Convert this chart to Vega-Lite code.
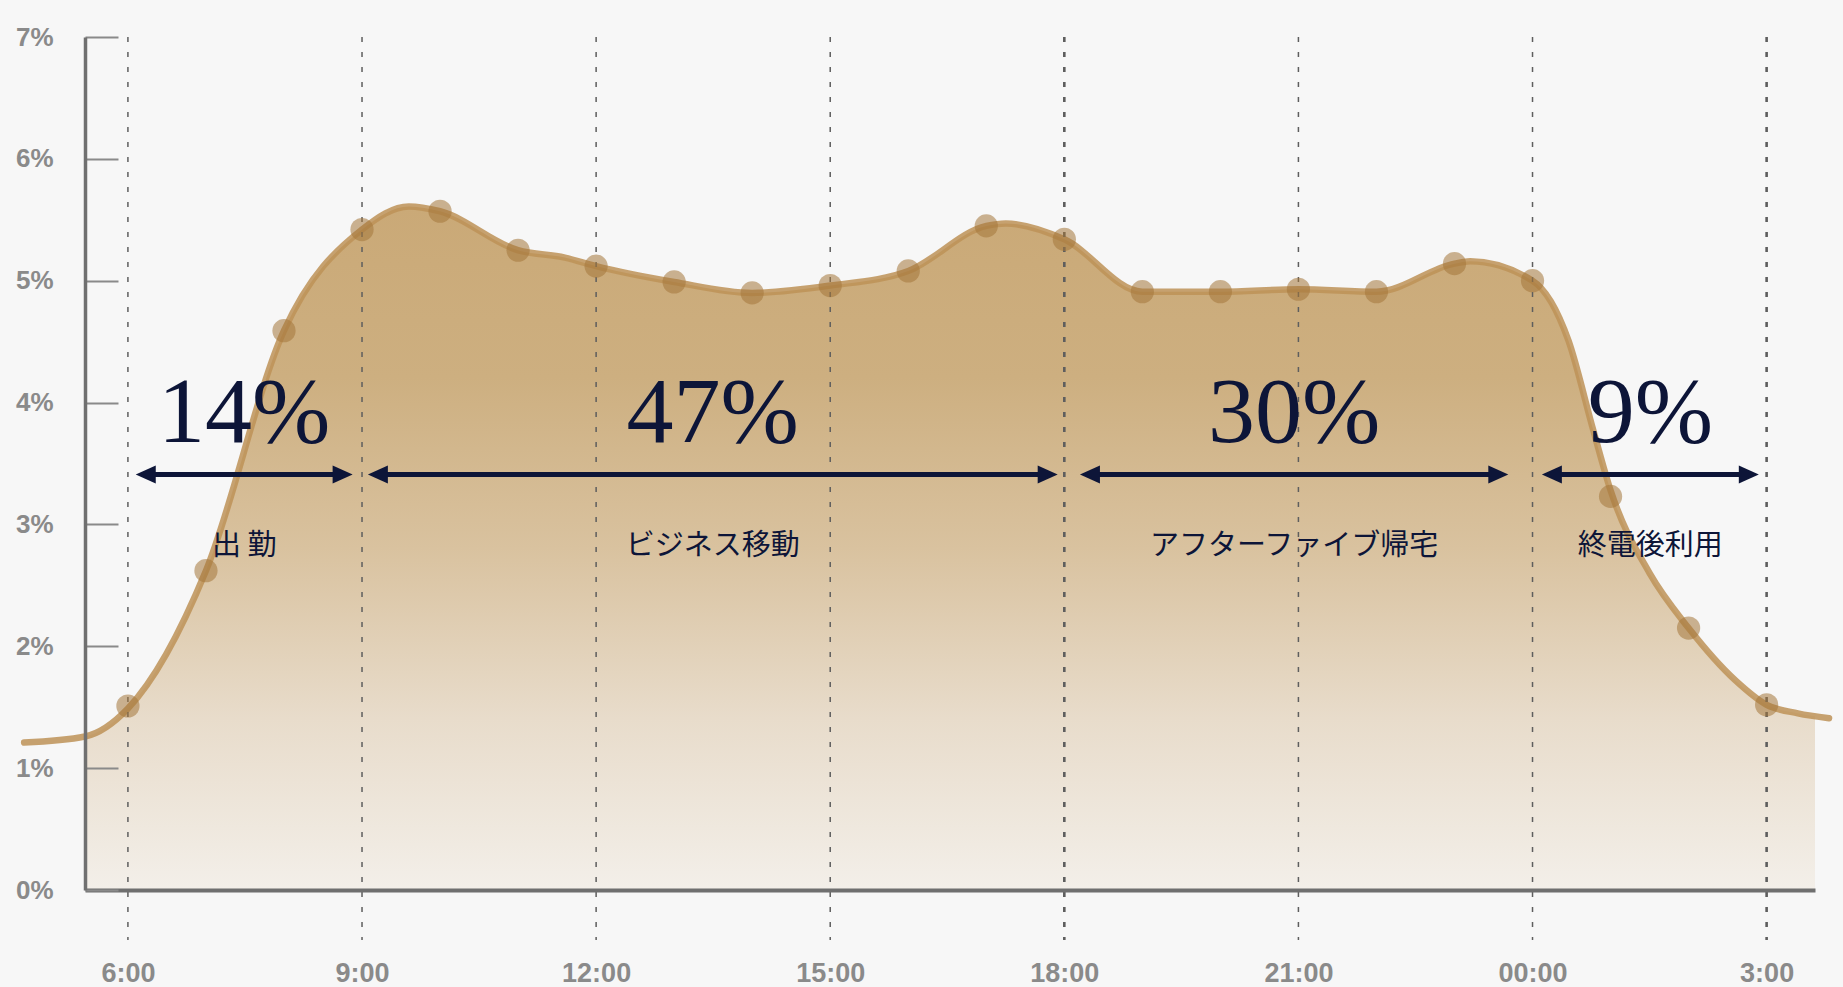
{
  "$schema": "https://vega.github.io/schema/vega-lite/v6.json",
  "width": 1730,
  "height": 853,
  "autosize": {"type": "none"},
  "padding": {"left": 85, "top": 37, "right": 28, "bottom": 97},
  "background": "#f7f7f7",
  "config": {"view": {"stroke": null}, "axis": {"grid": false}},
  "datasets": {
    "points": [
      {"h": 6, "v": 1.51}, {"h": 7, "v": 2.62}, {"h": 8, "v": 4.59}, {"h": 9, "v": 5.42},
      {"h": 10, "v": 5.57}, {"h": 11, "v": 5.25}, {"h": 12, "v": 5.12}, {"h": 13, "v": 4.99},
      {"h": 14, "v": 4.9}, {"h": 15, "v": 4.96}, {"h": 16, "v": 5.08}, {"h": 17, "v": 5.45},
      {"h": 18, "v": 5.34}, {"h": 19, "v": 4.91}, {"h": 20, "v": 4.91}, {"h": 21, "v": 4.93},
      {"h": 22, "v": 4.91}, {"h": 23, "v": 5.14}, {"h": 24, "v": 5.0}, {"h": 25, "v": 3.23},
      {"h": 26, "v": 2.15}, {"h": 27, "v": 1.52}
    ],
    "curve": [
      {"h": 4.67, "v": 1.21}, {"h": 5.45, "v": 1.26}, {"h": 6, "v": 1.49}, {"h": 7, "v": 2.62},
      {"h": 8, "v": 4.59}, {"h": 9, "v": 5.42}, {"h": 9.6, "v": 5.61}, {"h": 10, "v": 5.57},
      {"h": 11, "v": 5.25}, {"h": 11.6, "v": 5.19}, {"h": 12, "v": 5.12}, {"h": 13, "v": 4.99},
      {"h": 14, "v": 4.9}, {"h": 15, "v": 4.96}, {"h": 16, "v": 5.08}, {"h": 17, "v": 5.45},
      {"h": 17.25, "v": 5.47}, {"h": 18, "v": 5.34}, {"h": 19, "v": 4.91}, {"h": 20, "v": 4.91},
      {"h": 21, "v": 4.93}, {"h": 22, "v": 4.91}, {"h": 23, "v": 5.14}, {"h": 23.2, "v": 5.16},
      {"h": 24, "v": 5.0}, {"h": 24.46, "v": 4.51}, {"h": 24.78, "v": 3.77}, {"h": 25, "v": 3.28},
      {"h": 25.5, "v": 2.6}, {"h": 26, "v": 2.15}, {"h": 26.6, "v": 1.72}, {"h": 27, "v": 1.52},
      {"h": 27.4, "v": 1.45}, {"h": 27.8, "v": 1.41}
    ],
    "grid": [
      {"h": 6}, {"h": 9}, {"h": 12}, {"h": 15}, {"h": 18}, {"h": 21}, {"h": 24}, {"h": 27}
    ],
    "segments": [
      {"a": 6.1, "b": 8.88, "pct": "14%", "label": "出 勤"},
      {"a": 9.075, "b": 17.915, "pct": "47%", "label": "ビジネス移動"},
      {"a": 18.2, "b": 23.69, "pct": "30%", "label": "アフターファイブ帰宅"},
      {"a": 24.12, "b": 26.9, "pct": "9%", "label": "終電後利用"}
    ]
  },
  "layer": [
    {
      "data": {"name": "curve"},
      "mark": {
        "type": "area",
        "interpolate": "monotone",
        "clip": true,
        "fill": {
          "gradient": "linear",
          "x1": 0, "y1": 0, "x2": 0, "y2": 1,
          "stops": [
            {"offset": 0, "color": "#caa977"},
            {"offset": 0.25, "color": "#cdaf80"},
            {"offset": 0.5, "color": "#d9c29f"},
            {"offset": 0.75, "color": "#e8dccb"},
            {"offset": 1, "color": "#f3efe9"}
          ]
        }
      },
      "encoding": {
        "x": {
          "field": "h", "type": "quantitative", "title": null,
          "scale": {"domain": [5.45, 27.62], "nice": false, "zero": false},
          "axis": {
            "values": [6, 9, 12, 15, 18, 21, 24, 27],
            "labelExpr": "datum.value == 24 ? '00:00' : (datum.value % 24) + ':00'",
            "domainColor": "#6f6f6f", "domainWidth": 4,
            "ticks": false, "labelPadding": 70,
            "labelFont": "Liberation Sans", "labelFontWeight": "bold",
            "labelFontSize": 27, "labelColor": "#8a8a8a",
            "title": null, "grid": false, "zindex": 2
          }
        },
        "y": {
          "field": "v", "type": "quantitative", "stack": null, "title": null,
          "scale": {"domain": [0, 7], "nice": false},
          "axis": {
            "values": [0, 1, 2, 3, 4, 5, 6, 7],
            "labelExpr": "datum.value + '%'",
            "domainColor": "#707070", "domainWidth": 3.5,
            "tickColor": "#8a8a8a", "tickWidth": 2, "tickSize": -33,
            "labelPadding": 65,
            "labelFont": "Liberation Sans", "labelFontWeight": "bold",
            "labelFontSize": 26, "labelColor": "#8a8a8a",
            "title": null, "grid": false, "zindex": 2
          }
        }
      }
    },
    {
      "data": {"name": "curve"},
      "mark": {"type": "line", "interpolate": "monotone", "stroke": "#bd9257", "strokeWidth": 6.5, "opacity": 0.85, "strokeCap": "round"},
      "encoding": {
        "x": {"field": "h", "type": "quantitative", "title": null},
        "y": {"field": "v", "type": "quantitative", "title": null}
      }
    },
    {
      "data": {"name": "grid"},
      "mark": {"type": "rule", "strokeDash": [5, 10], "color": "#5e5e5e"},
      "encoding": {
        "x": {"field": "h", "type": "quantitative", "title": null},
        "y": {"datum": 7, "type": "quantitative", "title": null},
        "y2": {"datum": -0.41},
        "strokeWidth": {"condition": {"test": "datum.h == 18 || datum.h == 27", "value": 2.6}, "value": 1.5}
      }
    },
    {
      "data": {"name": "points"},
      "mark": {"type": "circle", "size": 540, "color": "#a4773b", "opacity": 0.55},
      "encoding": {
        "x": {"field": "h", "type": "quantitative", "title": null},
        "y": {"field": "v", "type": "quantitative", "title": null}
      }
    },
    {
      "data": {"name": "segments"},
      "transform": [
        {"calculate": "datum.a + 0.12", "as": "xs"},
        {"calculate": "datum.b - 0.12", "as": "xe"}
      ],
      "mark": {"type": "rule", "strokeWidth": 5, "color": "#0d1538"},
      "encoding": {
        "x": {"field": "xs", "type": "quantitative", "title": null},
        "x2": {"field": "xe"},
        "y": {"datum": 3.41, "type": "quantitative", "title": null}
      }
    },
    {
      "data": {"name": "segments"},
      "mark": {"type": "point", "shape": "M0,0L2,-0.9L2,0.9Z", "filled": true, "size": 400, "color": "#0d1538", "opacity": 1, "strokeWidth": 0},
      "encoding": {
        "x": {"field": "a", "type": "quantitative", "title": null},
        "y": {"datum": 3.41, "type": "quantitative", "title": null}
      }
    },
    {
      "data": {"name": "segments"},
      "mark": {"type": "point", "shape": "M0,0L-2,-0.9L-2,0.9Z", "filled": true, "size": 400, "color": "#0d1538", "opacity": 1, "strokeWidth": 0},
      "encoding": {
        "x": {"field": "b", "type": "quantitative", "title": null},
        "y": {"datum": 3.41, "type": "quantitative", "title": null}
      }
    },
    {
      "data": {"name": "segments"},
      "transform": [{"calculate": "(datum.a + datum.b) / 2", "as": "mid"}],
      "mark": {"type": "text", "font": "Liberation Serif", "fontSize": 94, "color": "#0d1538", "align": "center", "baseline": "alphabetic"},
      "encoding": {
        "x": {"field": "mid", "type": "quantitative", "title": null},
        "y": {"datum": 3.68, "type": "quantitative", "title": null},
        "text": {"field": "pct"}
      }
    },
    {
      "data": {"name": "segments"},
      "transform": [{"calculate": "(datum.a + datum.b) / 2", "as": "mid"}],
      "mark": {"type": "text", "font": "Noto Sans CJK JP", "fontSize": 29, "color": "#0d1538", "align": "center", "baseline": "middle"},
      "encoding": {
        "x": {"field": "mid", "type": "quantitative", "title": null},
        "y": {"datum": 2.82, "type": "quantitative", "title": null},
        "text": {"field": "label"}
      }
    }
  ]
}
